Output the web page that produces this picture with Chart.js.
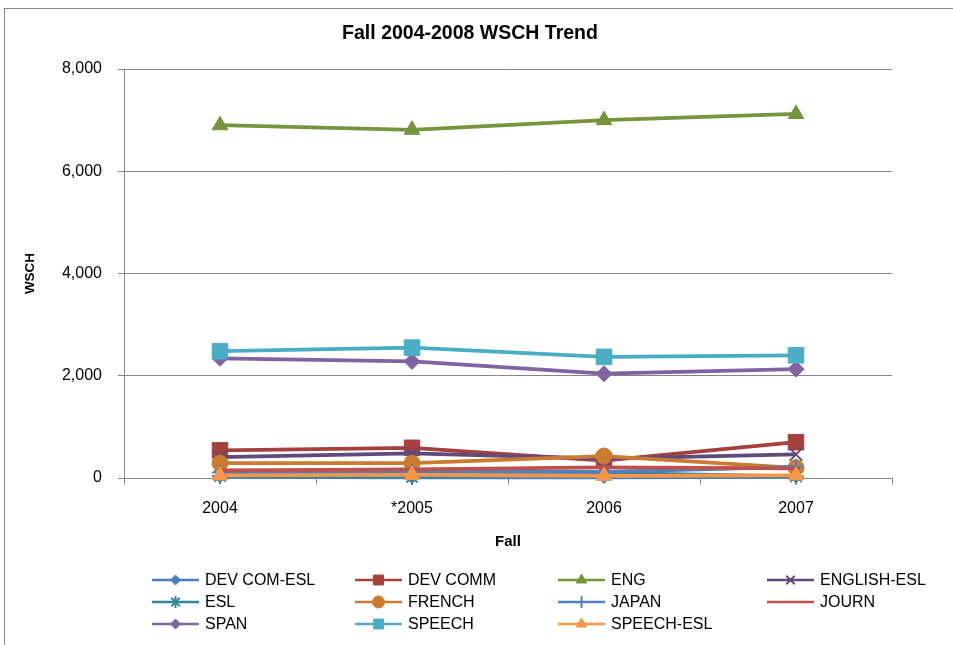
<!DOCTYPE html>
<html>
<head>
<meta charset="utf-8">
<script src="https://cdn.jsdelivr.net/npm/chart.js@4/dist/chart.umd.min.js"></script>
<style>
  html, body { margin: 0; padding: 0; background: #ffffff; }
  #wrap { position: relative; width: 953px; height: 645px; }
</style>
</head>
<body>
<div id="wrap"><canvas id="c" width="953" height="645"></canvas></div>
<script>
// ---- data ----
const chartTitle = 'Fall 2004-2008 WSCH Trend';
const categories = ['2004', '*2005', '2006', '2007'];
const seriesNames = ['DEV COM-ESL', 'DEV COMM', 'ENG', 'ENGLISH-ESL', 'ESL', 'FRENCH', 'JAPAN', 'JOURN', 'SPAN', 'SPEECH', 'SPEECH-ESL'];
const devComEsl  = [20, 10, 10, 20];
const devComm    = [540, 590, 340, 700];
const eng        = [6900, 6810, 7000, 7120];
const englishEsl = [410, 480, 380, 460];
const esl        = [40, 20, 100, 30];
const french     = [290, 290, 430, 200];
const japan      = [110, 120, 120, 220];
const journ      = [150, 170, 210, 190];
const span       = [2340, 2280, 2040, 2130];
const speech     = [2480, 2550, 2370, 2400];
const speechEsl  = [50, 60, 40, 50];
const yTicks = [0, 2000, 4000, 6000, 8000];

const seriesValues = [devComEsl, devComm, eng, englishEsl, esl, french, japan, journ, span, speech, speechEsl];
const colors = ['#4A7EBB', '#A5403D', '#77933C', '#604A7B', '#31859C', '#CC7A30', '#4F81BD', '#C0504D', '#8064A2', '#4BACC6', '#F79646'];
const styles = ['rectRot', 'rect', 'triangle', 'crossRot', 'star', 'circle', 'cross', 'dash', 'rectRot', 'rect', 'triangle'];
const radii  = [6, 11, 9, 9, 8, 8, 8, 4, 8, 11, 9];
const legendRadii = [5, 7, 6, 6, 6, 6, 6, 3, 5, 7, 6];

Chart.defaults.font.family = '"Liberation Sans", Arial, sans-serif';
Chart.defaults.color = '#000000';

const datasets = seriesNames.map((name, i) => ({
  label: name,
  data: seriesValues[i],
  borderColor: colors[i],
  backgroundColor: colors[i],
  borderWidth: 3.75,
  pointStyle: styles[i],
  pointRadius: radii[i],
  pointBorderWidth: (styles[i] === 'crossRot' || styles[i] === 'star' || styles[i] === 'cross' || styles[i] === 'dash') ? 2 : 1,
  pointBackgroundColor: colors[i],
  pointBorderColor: colors[i],
  tension: 0,
  clip: false,
  order: seriesNames.length - i
}));

function drawMarker(ctx, style, r, x, y, color, bw) {
  ctx.save();
  ctx.fillStyle = color;
  ctx.strokeStyle = color;
  ctx.lineWidth = bw;
  if (Chart.helpers && Chart.helpers.drawPoint) {
    Chart.helpers.drawPoint(ctx, { pointStyle: style, radius: r, rotation: 0, borderWidth: bw }, x, y);
  }
  ctx.restore();
}

const decor = {
  id: 'decor',
  beforeDraw(chart) {
    const ctx = chart.ctx;
    ctx.save();
    ctx.fillStyle = '#ffffff';
    ctx.fillRect(0, 0, chart.width, chart.height);
    ctx.strokeStyle = '#868686';
    ctx.lineWidth = 1;
    ctx.strokeRect(4.5, 8.5, 1000, 700);
    ctx.fillStyle = '#000000';
    ctx.font = 'bold 19.5px "Liberation Sans", Arial, sans-serif';
    ctx.textAlign = 'center';
    ctx.textBaseline = 'middle';
    ctx.fillText(chartTitle, 470, 34);
    ctx.restore();
  },
  afterDraw(chart) {
    const ctx = chart.ctx;
    const colX = [152, 355, 558, 767];
    const rowY = [580, 602, 624];
    ctx.save();
    chart.data.datasets.forEach((ds, i) => {
      const col = i % 4, row = Math.floor(i / 4);
      const x0 = colX[col], y = rowY[row];
      ctx.strokeStyle = ds.borderColor;
      ctx.lineWidth = 2.5;
      ctx.beginPath();
      ctx.moveTo(x0, y);
      ctx.lineTo(x0 + 47, y);
      ctx.stroke();
      drawMarker(ctx, ds.pointStyle, legendRadii[i], x0 + 23.5, y, ds.borderColor, ds.pointBorderWidth);
      ctx.fillStyle = '#000000';
      ctx.font = '16px "Liberation Sans", Arial, sans-serif';
      ctx.textBaseline = 'middle';
      ctx.textAlign = 'left';
      ctx.fillText(ds.label, x0 + 53, y + 1);
    });
    ctx.restore();
  }
};

new Chart(document.getElementById('c'), {
  type: 'line',
  data: { labels: categories, datasets: datasets },
  plugins: [decor],
  options: {
    responsive: false,
    animation: false,
    events: [],
    layout: { padding: { left: 4, right: 61, top: 69, bottom: 95 } },
    plugins: {
      legend: { display: false },
      tooltip: { enabled: false },
      title: { display: false }
    },
    scales: {
      x: {
        type: 'category',
        offset: true,
        afterFit(scale) { scale.height = 72; },
        grid: { display: true, drawOnChartArea: false, drawTicks: true, tickLength: 6, color: '#868686', offset: true },
        border: { display: true, color: '#868686', width: 1 },
        ticks: { font: { size: 16 }, color: '#000000', padding: 15, maxRotation: 0 },
        title: { display: true, text: 'Fall', font: { size: 15, weight: 'bold' }, color: '#000000', padding: { top: 0, bottom: -1 } }
      },
      y: {
        min: 0,
        max: 8000,
        afterFit(scale) { scale.width = 120; },
        afterBuildTicks(scale) { scale.ticks = yTicks.map(v => ({ value: v })); },
        grid: { color: '#868686', lineWidth: 1, tickLength: 6, drawTicks: true },
        border: { display: true, color: '#868686', width: 1 },
        ticks: {
          font: { size: 16 },
          color: '#000000',
          padding: 16,
          callback: (v) => Number(v).toLocaleString('en-US')
        },
        title: { display: true, text: 'WSCH', font: { size: 13.5, weight: 'bold' }, color: '#000000', padding: { top: 18, bottom: 0 } }
      }
    }
  }
});
</script>
</body>
</html>
